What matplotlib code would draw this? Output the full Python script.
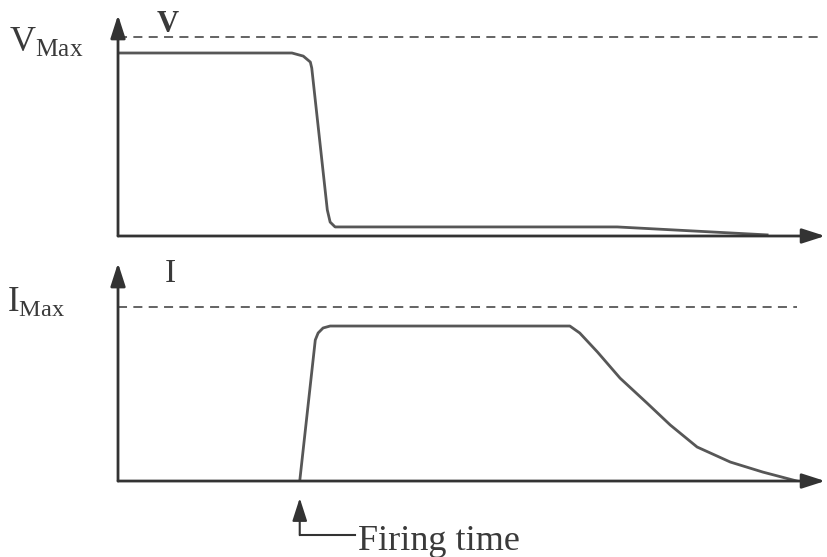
import matplotlib
matplotlib.use("Agg")
import matplotlib.pyplot as plt

plt.rcParams['font.family'] = ['Liberation Serif', 'DejaVu Serif']
plt.rcParams['mathtext.fontset'] = 'custom'
plt.rcParams['mathtext.rm'] = 'Liberation Serif'

# voltage curve (time units, V normalised to axis height)
v_t = [0.0, 2.46, 2.62, 2.72, 2.74, 2.96, 3.00, 3.07, 7.06, 9.18]
v_val = [0.828, 0.828, 0.814, 0.787, 0.76, 0.118, 0.063, 0.041, 0.041, 0.005]
v_max = 0.90

# current curve
i_t = [2.57, 2.79, 2.83, 2.90, 3.00, 6.39, 6.53, 6.78, 7.10, 7.48, 7.81, 8.19, 8.66, 9.12, 9.60]
i_val = [0.0, 0.647, 0.679, 0.702, 0.711, 0.711, 0.679, 0.592, 0.472, 0.358, 0.257, 0.156, 0.087, 0.041, 0.0]
i_max = 0.798

firing_time = 2.57

line_col = '#575757'
axis_col = '#333333'
text_col = '#3a3a3a'
head = '-|>,head_length=1.4,head_width=0.45'

fig = plt.figure(figsize=(8.27, 5.57), dpi=100)
ax_v = fig.add_axes([0.1427, 0.5763, 0.855, 0.3968])
ax_i = fig.add_axes([0.1427, 0.1364, 0.855, 0.3914])

def setup(ax):
    ax.set_xlim(0, 10)
    ax.set_ylim(0, 1)
    for s in ax.spines.values():
        s.set_visible(False)
    ax.set_xticks([])
    ax.set_yticks([])
    ax.patch.set_alpha(0)
    arr = dict(arrowstyle=head, lw=2, color=axis_col, shrinkA=0, shrinkB=0)
    ax.annotate('', xy=(0, 1), xytext=(0, 0), xycoords='axes fraction',
                arrowprops=arr, annotation_clip=False)
    ax.annotate('', xy=(1, 0), xytext=(0, 0), xycoords='axes fraction',
                arrowprops=arr, annotation_clip=False)

setup(ax_v)
setup(ax_i)

ax_v.plot([0, 9.96], [v_max, v_max], '--', color=line_col, lw=1.3, dashes=(5, 3.5))
ax_v.plot(v_t, v_val, color=line_col, lw=2, solid_joinstyle='round')
ax_v.text(0.70, 0.955, 'V', ha='center', va='center', fontsize=22, fontweight='bold',
          color=text_col)
fig.text(83 / 827, 1 - 52 / 557, r'$\mathregular{V_{Max}}$', ha='right', va='baseline',
         fontsize=26, color=text_col)

ax_i.plot([0, 9.6], [i_max, i_max], '--', color=line_col, lw=1.3, dashes=(5, 3.5))
ax_i.plot(i_t, i_val, color=line_col, lw=2, solid_joinstyle='round')
ax_i.text(0.74, 0.95, 'I', ha='center', va='center', fontsize=24, color=text_col)
fig.text(65 / 827, 1 - 312 / 557, r'$\mathregular{I_{Max}}$', ha='right', va='baseline',
         fontsize=25, color=text_col)

# firing time marker
ax_i.annotate('', xy=(firing_time, -0.078), xytext=(firing_time, -0.248),
              arrowprops=dict(arrowstyle=head, lw=1.5, color=axis_col,
                              shrinkA=0, shrinkB=0),
              annotation_clip=False)
ax_i.plot([firing_time, 3.35], [-0.248, -0.248], color=axis_col, lw=1.5, clip_on=False)
ax_i.text(3.39, -0.317, 'Firing time', ha='left', va='baseline', fontsize=26,
          color=text_col, clip_on=False)

fig.savefig('out.png', dpi=100)
